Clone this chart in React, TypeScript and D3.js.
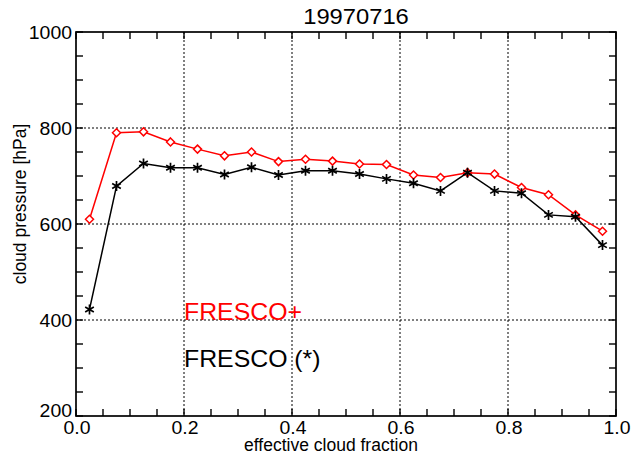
import React from "react";
import * as d3 from "d3";

const title = "19970716";
const xLabel = "effective cloud fraction";
const yLabel = "cloud pressure [hPa]";
const cloudFraction = [0.025, 0.075, 0.125, 0.175, 0.225, 0.275, 0.325, 0.375, 0.425, 0.475, 0.525, 0.575, 0.625, 0.675, 0.725, 0.775, 0.825, 0.875, 0.925, 0.975];
const frescoPlus = [610, 790, 792, 771, 756, 742, 750, 730, 735, 731, 725, 724, 702, 697, 707, 704, 676, 661, 619, 585];
const fresco = [422, 679, 726, 717, 717, 703, 718, 702, 711, 711, 704, 694, 685, 669, 707, 669, 664, 619, 615, 556];
const xTicks = [0, 0.2, 0.4, 0.6, 0.8, 1.0];
const yTicks = [200, 400, 600, 800, 1000];
const legendLabels = ["FRESCO+", "FRESCO (*)"];

const W = 634, H = 456;
const m = { left: 76, right: 616, top: 32, bottom: 416 };
const FONT = "'Liberation Sans', Arial, Helvetica, sans-serif";
const SX = 1.08;

function T({ x, y, size, anchor = "start", fill = "#000", children }: any) {
  return (
    <g transform={`translate(${x},${y}) scale(${SX},1)`}>
      <text x={0} y={0} fontSize={size} textAnchor={anchor} fill={fill} fontFamily={FONT}>
        {children}
      </text>
    </g>
  );
}

export default function App() {
  const x = d3.scaleLinear().domain([0, 1]).range([m.left, m.right]);
  const y = d3.scaleLinear().domain([200, 1000]).range([m.bottom, m.top]);
  const line = d3.line<number>().x((_, i) => x(cloudFraction[i])).y((d) => y(d));
  const xMinor = d3.range(0, 1.0001, 0.05);
  const yMinor = d3.range(200, 1000.1, 50);
  const tickLen = 7;
  const star = (cx: number, cy: number, r: number) => {
    const a = r * Math.cos(Math.PI / 6), b = r * Math.sin(Math.PI / 6);
    return `M${cx},${cy - r}L${cx},${cy + r}M${cx - a},${cy - b}L${cx + a},${cy + b}M${cx - a},${cy + b}L${cx + a},${cy - b}`;
  };
  return (
    <svg width={W} height={H} style={{ position: "absolute", left: 0, top: 0, background: "#fff" }}>
      <rect width={W} height={H} fill="#fff" />
      {xTicks.filter((t) => t > 0 && t < 1).map((t) => (
        <line key={"gx" + t} x1={x(t)} x2={x(t)} y1={m.top} y2={m.bottom} stroke="#000" strokeWidth={1} strokeDasharray="2,2" />
      ))}
      {yTicks.filter((t) => t > 200 && t < 1000).map((t) => (
        <line key={"gy" + t} x1={m.left} x2={m.right} y1={y(t)} y2={y(t)} stroke="#000" strokeWidth={1} strokeDasharray="2,2" />
      ))}
      {xMinor.map((t) => (
        <g key={"tx" + t}>
          <line x1={x(t)} x2={x(t)} y1={m.bottom} y2={m.bottom - tickLen} stroke="#000" strokeWidth={1.4} />
          <line x1={x(t)} x2={x(t)} y1={m.top} y2={m.top + tickLen} stroke="#000" strokeWidth={1.4} />
        </g>
      ))}
      {yMinor.map((t) => (
        <g key={"ty" + t}>
          <line x1={m.left} x2={m.left + tickLen} y1={y(t)} y2={y(t)} stroke="#000" strokeWidth={1.4} />
          <line x1={m.right} x2={m.right - tickLen} y1={y(t)} y2={y(t)} stroke="#000" strokeWidth={1.4} />
        </g>
      ))}
      <rect x={m.left} y={m.top} width={m.right - m.left} height={m.bottom - m.top} fill="none" stroke="#000" strokeWidth={1.7} />
      {xTicks.map((t) => (
        <T key={"lx" + t} x={x(t) + 1} y={m.bottom + 18} size={18} anchor="middle">{t.toFixed(1)}</T>
      ))}
      {yTicks.map((t, i) => (
        <T key={"ly" + t} x={m.left - 4} y={y(t) + (i === 0 ? 1 : 7)} size={18} anchor="end">{String(t)}</T>
      ))}
      <path d={line(frescoPlus) || ""} fill="none" stroke="#ff0000" strokeWidth={1.5} />
      {frescoPlus.map((v, i) => {
        const cx = x(cloudFraction[i]), cy = y(v), r = 4;
        return <path key={"r" + i} d={`M${cx},${cy - r}L${cx + r},${cy}L${cx},${cy + r}L${cx - r},${cy}Z`} fill="#fff" stroke="#ff0000" strokeWidth={1.5} />;
      })}
      <path d={line(fresco) || ""} fill="none" stroke="#000" strokeWidth={1.5} />
      {fresco.map((v, i) => (
        <path key={"b" + i} d={star(x(cloudFraction[i]), y(v), 5)} stroke="#000" strokeWidth={1.7} fill="none" />
      ))}
      <T x={x(0.2)} y={y(400)} size={23} fill="#ff0000">{legendLabels[0]}</T>
      <T x={x(0.2)} y={367} size={23}>{legendLabels[1]}</T>
      <T x={356} y={24} size={22} anchor="middle">{title}</T>
      <text x={331} y={451} fontSize={17.5} textAnchor="middle" fontFamily={FONT}>{xLabel}</text>
      <text transform={`translate(26,204) rotate(-90)`} fontSize={17.5} textAnchor="middle" fontFamily={FONT}>{yLabel}</text>
    </svg>
  );
}
